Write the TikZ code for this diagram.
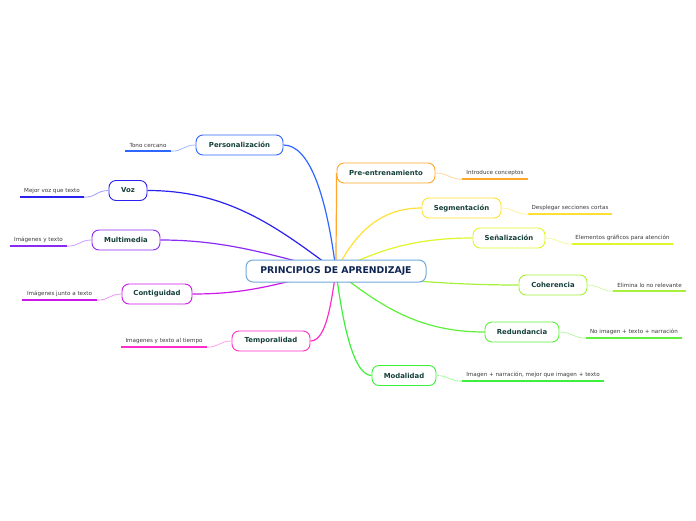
\documentclass[tikz,border=0pt]{standalone}
\usepackage{fontspec}
\setmainfont{DejaVu Sans}
\usetikzlibrary{positioning,backgrounds}
\definecolor{ink}{HTML}{15403A}
\definecolor{navy}{HTML}{0E2452}
\definecolor{leafink}{HTML}{3A3A3A}
\definecolor{rootline}{HTML}{6FA8DC}
\definecolor{cPers}{HTML}{2F66FF}
\definecolor{cVoz}{HTML}{2A22F0}
\definecolor{cMulti}{HTML}{8A2AF5}
\definecolor{cConti}{HTML}{CC18E8}
\definecolor{cTempo}{HTML}{FF2EC8}
\definecolor{cPre}{HTML}{FFA62B}
\definecolor{cSegm}{HTML}{FFE135}
\definecolor{cSenal}{HTML}{E0F52A}
\definecolor{cCoher}{HTML}{A6F03C}
\definecolor{cRedun}{HTML}{5EF03A}
\definecolor{cModal}{HTML}{3CF03C}
\tikzset{
  rootbox/.style={draw=rootline, rounded corners=7pt, line width=1pt, fill=white, text=navy,
    font=\fontsize{9.3}{11}\selectfont\bfseries, minimum width=180pt, minimum height=22pt, inner sep=0pt},
  topic/.style={draw=#1, rounded corners=7pt, line width=0.9pt, fill=white, text=ink,
    font=\fontsize{6.9}{8}\selectfont\bfseries, minimum height=20pt, inner sep=0pt},
  leaf/.style={text=leafink, font=\fontsize{5.6}{6.5}\selectfont, minimum height=12pt, inner sep=0pt},
  link/.style={draw=#1, line width=1.2pt},
  uline/.style={draw=#1, line width=1.5pt},
  twig/.style={draw=#1!45, line width=0.8pt},
}
\begin{document}
\begin{tikzpicture}[x=1pt,y=-1pt]
\useasboundingbox (0,0) rectangle (696,520);
% central topic
\node[rootbox] (root) at (336,271) {PRINCIPIOS DE APRENDIZAJE};
% left branch
\node[topic=cPers, minimum width=87pt] (pers) at (239.5,145) {Personalización};
\node[topic=cVoz, minimum width=38pt] (voz) at (128,190.5) {Voz};
\node[topic=cMulti, minimum width=68pt] (multi) at (126,240) {Multimedia};
\node[topic=cConti, minimum width=70pt] (conti) at (157,294) {Contiguidad};
\node[topic=cTempo, minimum width=78pt] (tempo) at (271,341) {Temporalidad};
% right branch
\node[topic=cPre, minimum width=98pt] (pre) at (386,173) {Pre-entrenamiento};
\node[topic=cSegm, minimum width=79pt] (segm) at (461.5,208) {Segmentación};
\node[topic=cSenal, minimum width=72pt] (senal) at (509,238) {Señalización};
\node[topic=cCoher, minimum width=68pt] (coher) at (553,285) {Coherencia};
\node[topic=cRedun, minimum width=74pt] (redun) at (522,332) {Redundancia};
\node[topic=cModal, minimum width=64pt] (modal) at (404,375.5) {Modalidad};
% leaves
\node[leaf, minimum width=46pt] (tono) at (148,145) {Tono cercano};
\node[leaf, minimum width=64pt] (mejor) at (52,191) {Mejor voz que texto};
\node[leaf, minimum width=57pt] (imgtxt) at (38.5,240) {Imágenes y texto};
\node[leaf, minimum width=75pt] (junto) at (59.5,294) {Imágenes junto a texto};
\node[leaf, minimum width=86pt] (tiempo) at (164,341) {Imagenes y texto al tiempo};
\node[leaf, minimum width=66pt] (intro) at (495,173) {Introduce conceptos};
\node[leaf, minimum width=84pt] (despl) at (570,208) {Desplegar secciones cortas};
\node[leaf, minimum width=101pt] (graf) at (622.5,238) {Elementos gráficos para atención};
\node[leaf, minimum width=73pt] (elim) at (649.5,285) {Elimina lo no relevante};
\node[leaf, minimum width=96pt] (noimg) at (634,332) {No imagen + texto + narración};
\node[leaf, minimum width=142pt] (mejimg) at (533,375) {Imagen + narración, mejor que imagen + texto};
\begin{scope}[on background layer]
% topics to centre
\draw[link=cPers] (pers.east) .. controls +(25,0) and +(-10,-80) .. (root.center);
\draw[link=cVoz] (voz.east) .. controls +(80,0) and +(-60,-45) .. (root.center);
\draw[link=cMulti] (multi.east) .. controls +(70,0) and +(-60,-14) .. (root.center);
\draw[link=cConti] (conti.east) .. controls +(60,0) and +(-60,12) .. (root.center);
\draw[link=cTempo] (tempo.east) .. controls +(16,0) and +(-5,32) .. (root.center);
\draw[link=cPre] (pre.west) .. controls +(0,40) and +(0,-40) .. (root.center);
\draw[link=cSegm] (segm.west) .. controls +(-40,0) and +(20,-40) .. (root.center);
\draw[link=cSenal] (senal.west) .. controls +(-60,0) and +(40,-20) .. (root.center);
\draw[link=cCoher] (coher.west) .. controls +(-60,0) and +(60,10) .. (root.center);
\draw[link=cRedun] (redun.west) .. controls +(-60,0) and +(50,40) .. (root.center);
\draw[link=cModal] (modal.west) .. controls +(-20,0) and +(5,40) .. (root.center);
\end{scope}
% underlines and twigs
\draw[uline=cPers] (tono.south west) -- (tono.south east);
\draw[twig=cPers] (tono.south east) .. controls +(12,0) and +(-12,0) .. (pers.west);
\draw[uline=cVoz] (mejor.south west) -- (mejor.south east);
\draw[twig=cVoz] (mejor.south east) .. controls +(12,0) and +(-12,0) .. (voz.west);
\draw[uline=cMulti] (imgtxt.south west) -- (imgtxt.south east);
\draw[twig=cMulti] (imgtxt.south east) .. controls +(12,0) and +(-12,0) .. (multi.west);
\draw[uline=cConti] (junto.south west) -- (junto.south east);
\draw[twig=cConti] (junto.south east) .. controls +(12,0) and +(-12,0) .. (conti.west);
\draw[uline=cTempo] (tiempo.south west) -- (tiempo.south east);
\draw[twig=cTempo] (tiempo.south east) .. controls +(12,0) and +(-12,0) .. (tempo.west);
\draw[uline=cPre] (intro.south west) -- (intro.south east);
\draw[twig=cPre] (pre.east) .. controls +(12,0) and +(-12,0) .. (intro.south west);
\draw[uline=cSegm] (despl.south west) -- (despl.south east);
\draw[twig=cSegm] (segm.east) .. controls +(12,0) and +(-12,0) .. (despl.south west);
\draw[uline=cSenal] (graf.south west) -- (graf.south east);
\draw[twig=cSenal] (senal.east) .. controls +(12,0) and +(-12,0) .. (graf.south west);
\draw[uline=cCoher] (elim.south west) -- (elim.south east);
\draw[twig=cCoher] (coher.east) .. controls +(12,0) and +(-12,0) .. (elim.south west);
\draw[uline=cRedun] (noimg.south west) -- (noimg.south east);
\draw[twig=cRedun] (redun.east) .. controls +(12,0) and +(-12,0) .. (noimg.south west);
\draw[uline=cModal] (mejimg.south west) -- (mejimg.south east);
\draw[twig=cModal] (modal.east) .. controls +(12,0) and +(-12,0) .. (mejimg.south west);
\end{tikzpicture}
\end{document}
